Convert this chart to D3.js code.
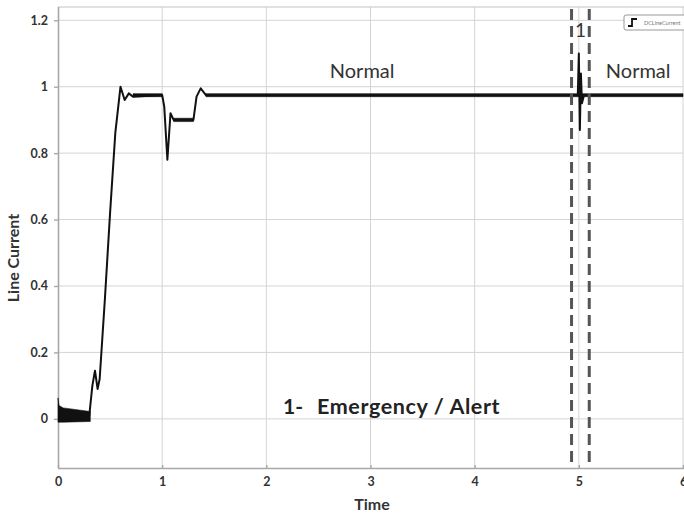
<!DOCTYPE html>
<html>
<head>
<meta charset="utf-8">
<script src="https://cdn.jsdelivr.net/npm/d3@7"></script>
<style>
  html, body { margin: 0; padding: 0; background: #fff; }
  svg text { font-family: Lato, "Open Sans", sans-serif; }
</style>
</head>
<body>
<svg id="chart" width="684" height="515"></svg>
<script>
// Line current trace (time in s, per-unit current)
const traceTime  = [0, 0.30, 0.33, 0.355, 0.38, 0.40, 0.45, 0.50, 0.55, 0.60, 0.64, 0.68, 0.72, 1.00, 1.02, 1.05, 1.08, 1.11, 1.30, 1.33, 1.37, 1.42, 4.99, 5.00, 5.01, 5.02, 5.03, 5.05, 6.0];
const traceValue = [0, 0.01, 0.10, 0.145, 0.09, 0.12, 0.36, 0.62, 0.86, 1.00, 0.96, 0.98, 0.97, 0.975, 0.94, 0.78, 0.92, 0.90, 0.90, 0.97, 0.995, 0.975, 0.975, 1.10, 0.87, 1.04, 0.95, 0.975, 0.975];

// Oscillation envelope (ripple band around the trace)
const bandTime  = [0, 0.01, 0.05, 0.31, 0.31, 0.72, 1.00, 1.00, 1.11, 1.30, 1.30, 1.42, 6.0];
const bandUpper = [0.063, 0.04, 0.033, 0.022, null, 0.979, 0.979, null, 0.905, 0.905, null, 0.979, 0.979];
const bandLower = [-0.01, -0.01, -0.01, -0.008, null, 0.970, 0.970, null, 0.895, 0.895, null, 0.970, 0.970];

// Event markers
const eventBounds = [4.93, 5.10];
const eventLabel  = "1";
const stateLabels = [{ t: 2.92, text: "Normal" }, { t: 5.57, text: "Normal" }];
const eventNo     = "1-";
const eventNote   = "Emergency / Alert";

// Axes
const xTicks = [0, 1, 2, 3, 4, 5, 6];
const yTicks = [0, 0.2, 0.4, 0.6, 0.8, 1, 1.2];
const xDomain = [0, 6];
const yDomain = [-0.148, 1.24];
const legendName = "DCLineCurrent";

const svg = d3.select("#chart");
const mLeft = 58, mRight = 683, mTop = 7, mBottom = 468;

const x = d3.scaleLinear().domain(xDomain).range([mLeft, mRight]);
const y = d3.scaleLinear().domain(yDomain).range([mBottom, mTop]);

// grid
const grid = svg.append("g");
grid.selectAll(".gx").data(xTicks.slice(1)).join("line")
  .attr("x1", d => x(d)).attr("x2", d => x(d))
  .attr("y1", mTop).attr("y2", mBottom)
  .attr("stroke", "#d4d4d4").attr("stroke-width", 1);
grid.selectAll(".gy").data(yTicks).join("line")
  .attr("x1", mLeft).attr("x2", mRight)
  .attr("y1", d => y(d)).attr("y2", d => y(d))
  .attr("stroke", "#d4d4d4").attr("stroke-width", 1);

// frame (top line)
svg.append("line").attr("x1", mLeft).attr("x2", mRight + 2).attr("y1", mTop).attr("y2", mTop)
  .attr("stroke", "#c4c4c4").attr("stroke-width", 1.2);

// axes
const xAxis = d3.axisBottom(x).tickValues(xTicks).tickFormat(d3.format("d")).tickSize(3).tickPadding(6);
const yAxis = d3.axisLeft(y).tickValues(yTicks).tickFormat(d => d === 1 ? "1" : d === 0 ? "0" : d3.format(".1f")(d)).tickSize(4).tickPadding(6);

const gx = svg.append("g").attr("transform", `translate(0,${mBottom})`).call(xAxis);
const gy = svg.append("g").attr("transform", `translate(${mLeft},0)`).call(yAxis);
[gx, gy].forEach(g => {
  g.select(".domain").attr("stroke", "#a8a8a8").attr("stroke-width", 1.6);
  g.selectAll(".tick line").attr("stroke", "#a8a8a8").attr("stroke-width", 1.4);
  g.selectAll(".tick text").attr("fill", "#333").attr("font-size", 12.5).attr("font-weight", 700)
    .style("font-family", "Lato, sans-serif");
});
gy.select(".domain").attr("d", `M0.5,${mTop}V${mBottom}`);
gx.select(".domain").attr("d", `M${mLeft},0.5H${mRight + 2}`);
gx.selectAll(".tick line").attr("y2", -3);

// axis titles
svg.append("text").attr("x", 372).attr("y", 510).attr("text-anchor", "middle")
  .attr("font-size", 16).attr("font-weight", 700).attr("fill", "#333").text("Time");
svg.append("text").attr("transform", `translate(19,258) rotate(-90)`)
  .attr("text-anchor", "middle").attr("font-size", 16).attr("font-weight", 700).attr("fill", "#333")
  .text("Line Current");

// ripple band
const bandData = bandTime.map((t, i) => ({ t, hi: bandUpper[i], lo: bandLower[i] }));
svg.append("path").datum(bandData)
  .attr("d", d3.area().defined(d => d.hi !== null)
    .x(d => x(d.t)).y0(d => y(d.lo)).y1(d => y(d.hi)))
  .attr("fill", "#111").attr("stroke", "#111").attr("stroke-width", 0.6);

// trace
const trace = traceTime.map((t, i) => ({ t, v: traceValue[i] }));
svg.append("path").datum(trace)
  .attr("d", d3.line().x(d => x(d.t)).y(d => y(d.v)))
  .attr("fill", "none").attr("stroke", "#111").attr("stroke-width", 2).attr("stroke-linejoin", "round");

// event window
svg.selectAll(".ev").data(eventBounds).join("line")
  .attr("x1", d => x(d)).attr("x2", d => x(d))
  .attr("y1", mTop + 2).attr("y2", mBottom)
  .attr("stroke", "#555").attr("stroke-width", 3).attr("stroke-dasharray", "11,6");

svg.append("text").attr("x", x((eventBounds[0] + eventBounds[1]) / 2)).attr("y", 37)
  .attr("text-anchor", "middle").attr("font-size", 19).attr("fill", "#333").text(eventLabel);

svg.selectAll(".st").data(stateLabels).join("text")
  .attr("x", d => x(d.t)).attr("y", 78)
  .attr("text-anchor", "middle").attr("font-size", 20).attr("fill", "#333").text(d => d.text);

svg.append("text").attr("x", 283).attr("y", 414).attr("font-size", 21).attr("font-weight", 700)
  .attr("fill", "#222").text(eventNo);
svg.append("text").attr("x", 317).attr("y", 414).attr("font-size", 21.5).attr("font-weight", 700)
  .attr("letter-spacing", 0.6).attr("fill", "#222").text(eventNote);

// legend
const lg = svg.append("g").attr("transform", "translate(624,15)");
lg.append("rect").attr("width", 62).attr("height", 15).attr("rx", 2)
  .attr("fill", "#fff").attr("stroke", "#999").attr("stroke-width", 1);
lg.append("path").attr("d", "M4,11H8V4H13").attr("fill", "none").attr("stroke", "#111").attr("stroke-width", 1.8);
lg.append("text").attr("x", 20).attr("y", 10).attr("font-size", 5.5).attr("fill", "#777").text(legendName);
</script>
</body>
</html>
